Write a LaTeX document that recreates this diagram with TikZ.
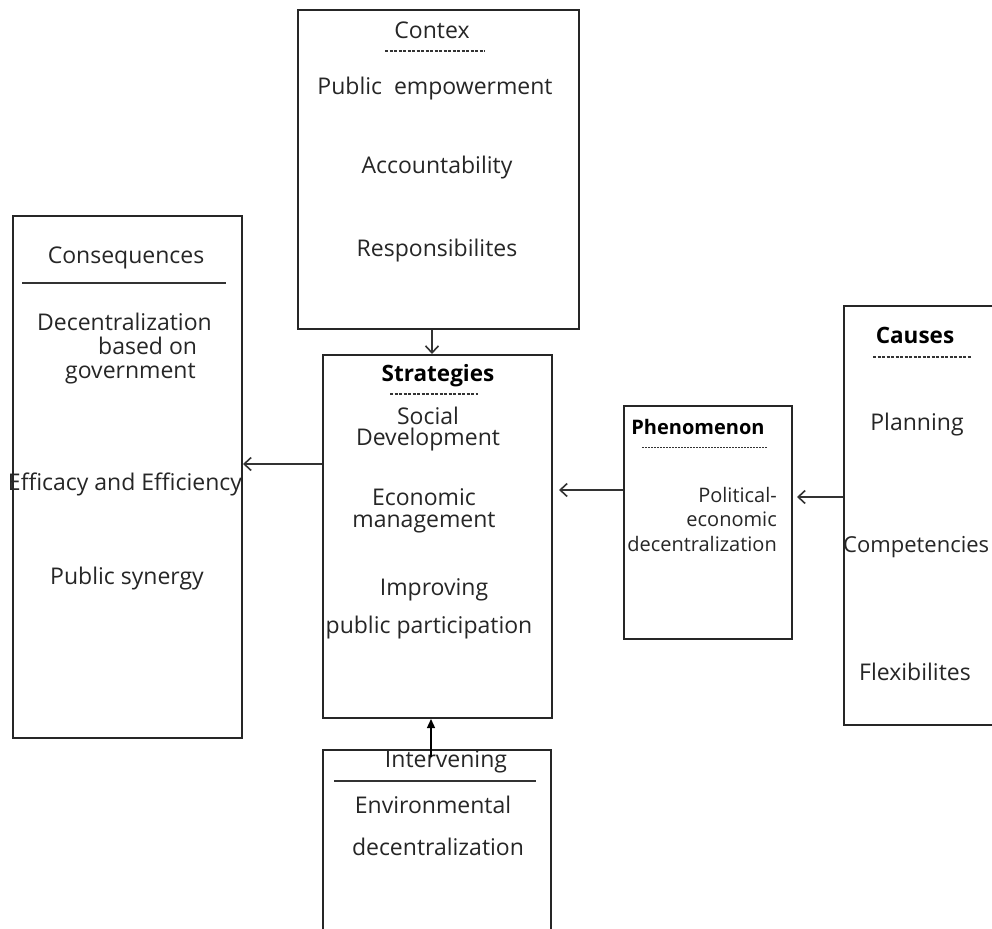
\documentclass[tikz,border=0pt]{standalone}
\usepackage{fontspec}
\setmainfont{Open Sans}
\usetikzlibrary{arrows.meta}
\begin{document}
\begin{tikzpicture}[x=1pt,y=-1pt,
  box/.style={draw=black!85,line width=2pt,inner sep=0pt,anchor=north west},
  txt/.style={text=black!85,font=\fontsize{23}{25}\selectfont,inner sep=0pt},
  btxt/.style={text=black,font=\fontsize{22.5}{25}\selectfont\bfseries,inner sep=0pt},
  dashline/.style={draw=black!80,line width=1.3pt,dash pattern=on 3pt off 1.5pt},
  solidline/.style={draw=black!80,line width=2pt},
  barb/.style={draw=black!80,line width=1.6pt,-{Straight Barb[length=7pt,width=13pt,line width=1.6pt]}},
  filled/.style={draw=black,line width=1.4pt,-{Triangle[length=9pt,width=8pt]}}
]
\useasboundingbox (0,0) rectangle (992,928);
\fill[white] (0,0) rectangle (992,928);
\clip (0,0) rectangle (992,928);

% boxes
\node[box,minimum width=281pt,minimum height=319pt] (contex) at (297,9) {};
\node[box,minimum width=229pt,minimum height=522pt] (cons) at (12,215) {};
\node[box,minimum width=229pt,minimum height=363pt] (strat) at (322,354) {};
\node[box,minimum width=168pt,minimum height=233pt] (phen) at (623,405) {};
\node[box,minimum width=170pt,minimum height=419pt] (causes) at (843,305) {};
\node[box,minimum width=228pt,minimum height=200pt] (interv) at (322,749) {};

% Contex
\node[txt] (t1) at (432,30) {Contex};
\draw[dashline] (385,51) -- (485,51);
\node[txt] (t2) at (435,89) {Public\ \ empowerment};
\node[txt] (t3) at (437,168) {Accountability};
\node[txt] (t4) at (437,251) {Responsibilites};

% Consequences
\node[txt] (c1) at (126,258) {Consequences};
\draw[solidline] (22,283) -- (226,283);
\node[txt,align=left,anchor=north west,font=\fontsize{23}{24}\selectfont] (c2) at (37,313)
  {Decentralization\\\hspace*{61pt}based on\\\hspace*{28pt}government};
\node[txt] (c5) at (125,484) {Efficacy and Efficiency};
\node[txt] (c6) at (127,579) {Public synergy};

% Strategies
\node[btxt] (s1) at (438,376) {Strategies};
\draw[dashline] (390,394) -- (478,394);
\node[txt,align=center,font=\fontsize{23}{21.5}\selectfont] (s2) at (428,429) {Social\\Development};
\node[txt,align=center,font=\fontsize{23}{21.5}\selectfont] (s4) at (424,511) {Economic\\management};
\node[txt] (s6) at (434,590) {Improving};
\node[txt] (s7) at (429,628) {public participation};

% Phenomenon
\node[btxt,font=\fontsize{20}{22}\selectfont\bfseries] (p1) at (698,427) {Phenomenon};
\draw[dashline,line width=1pt,dash pattern=on 2pt off 1pt] (642,447) -- (767,447);
\node[txt,font=\fontsize{20}{24.5}\selectfont,align=right,anchor=north east] (p2) at (777,487)
  {Political-\\economic\\decentralization};

% Causes
\node[btxt] (k1) at (915,335) {Causes};
\draw[dashline] (873,357) -- (971,357);
\node[txt] (k2) at (917,425) {Planning};
\node[txt,anchor=west,font=\fontsize{22}{24}\selectfont] (k3) at (843,547) {Competencies};
\node[txt] (k4) at (915,672) {Flexibilites};

% Intervening
\node[txt] (i1) at (446,762) {Intervening};
\draw[solidline] (334,781) -- (536,781);
\node[txt] (i2) at (433,805) {Environmental};
\node[txt] (i3) at (438,847) {decentralization};

% connectors
\draw[barb] (contex.south -| 432,0) -- (strat.north -| 432,0);
\draw[barb] (strat.west |- 0,464) -- (cons.east |- 0,464);
\draw[barb] (phen.west |- 0,490) -- (559,490);
\draw[barb] (causes.west |- 0,497) -- (797,497);
\coordinate (ib) at (431,757);
\draw[filled] (ib) -- (strat.south -| 431,0);
\end{tikzpicture}
\end{document}
